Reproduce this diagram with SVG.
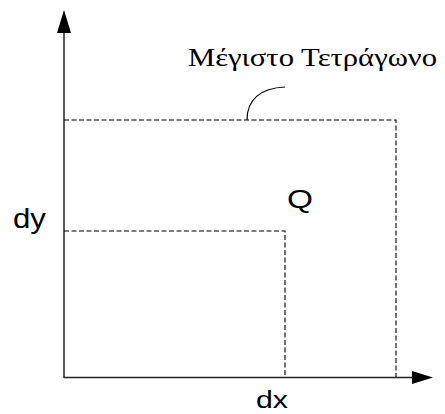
<svg xmlns="http://www.w3.org/2000/svg" width="445" height="414" viewBox="0 0 445 414">
<style>
.axis{stroke:#222;stroke-width:1.5;fill:none}
.dash{stroke:#000;stroke-width:1.1;fill:none;stroke-dasharray:5 2.5}
.sans{font-family:"Liberation Sans",Arial,sans-serif;fill:#000}
.serif{font-family:"Liberation Serif","Times New Roman",serif;fill:#000}
</style>
<rect width="445" height="414" fill="#fff"/>
<g id="connectors">
<line class="axis" x1="64" y1="378" x2="64" y2="30"/>
<polygon points="64,10 57,33 71,33" fill="#000"/>
<line class="axis" x1="64" y1="377.5" x2="414" y2="377.5" stroke="#666"/>
<polygon points="433,377.5 412,371 412,384" fill="#000"/>
<path class="dash" d="M64,120 H396 V377"/>
<path class="dash" d="M64,231 H285 V377"/>
<path d="M247,120 C247,100 260,88 285,87" fill="none" stroke="#000" stroke-width="1.2"/>
</g>
<g id="label-max">
<text class="serif" x="188" y="66" font-size="25" textLength="249" lengthAdjust="spacingAndGlyphs">Μέγιστο Τετράγωνο</text>
</g>
<g id="label-q">
<text class="sans" x="287" y="208" font-size="25" textLength="26" lengthAdjust="spacingAndGlyphs">Q</text>
</g>
<g id="label-dy">
<text class="sans" x="13" y="228" font-size="28" textLength="33" lengthAdjust="spacingAndGlyphs">dy</text>
</g>
<g id="label-dx">
<text class="sans" x="256" y="408" font-size="23" textLength="32" lengthAdjust="spacingAndGlyphs">dx</text>
</g>
</svg>
